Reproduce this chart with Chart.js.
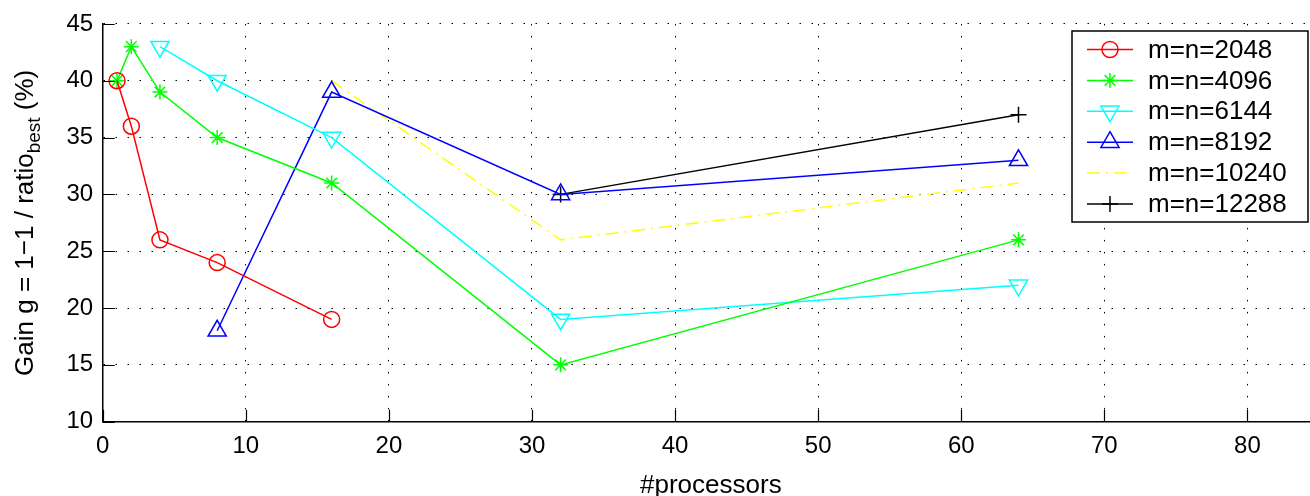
<!DOCTYPE html>
<html>
<head>
<meta charset="utf-8">
<script src="https://cdn.jsdelivr.net/npm/chart.js@4.4.0/dist/chart.umd.min.js"></script>
<style>
  html, body { margin: 0; padding: 0; background: #fff; overflow: hidden; }
  #wrap { width: 1331px; height: 496px; }
</style>
</head>
<body>
<div id="wrap"><canvas id="gain" width="1331" height="496"></canvas></div>
<script>
const FONT = "'Liberation Sans', Arial, Helvetica, sans-serif";

// series
const procs2048 = [1, 2, 4, 8, 16];
const gain2048 = [40, 36, 26, 24, 19];
const procs4096 = [1, 2, 4, 8, 16, 32, 64];
const gain4096 = [40, 43, 39, 35, 31, 15, 26];
const procs6144 = [4, 8, 16, 32, 64];
const gain6144 = [43, 40, 35, 19, 22];
const procs8192 = [8, 16, 32, 64];
const gain8192 = [18, 39, 30, 33];
const procs10240 = [16, 32, 64];
const gain10240 = [40, 26, 31];
const procs12288 = [32, 64];
const gain12288 = [30, 37];

const seriesLabels = ['m=n=2048', 'm=n=4096', 'm=n=6144', 'm=n=8192', 'm=n=10240', 'm=n=12288'];
const xTicks = [0, 10, 20, 30, 40, 50, 60, 70, 80];
const yTicks = [10, 15, 20, 25, 30, 35, 40, 45];

const STYLES = [
  { color: '#ff0000', point: 'circle', radius: 8, rotation: 0, dash: [] },
  { color: '#00ff00', point: 'star', radius: 7.5, rotation: 0, dash: [] },
  { color: '#00ffff', point: 'triangle', radius: 10.5, rotation: 180, dash: [] },
  { color: '#0000ff', point: 'triangle', radius: 10.5, rotation: 0, dash: [] },
  { color: '#ffff00', point: false, radius: 0, rotation: 0, dash: [13, 6, 2, 6] },
  { color: '#000000', point: 'cross', radius: 8, rotation: 0, dash: [] },
];

function pts(xs, ys) {
  return xs.map((x, i) => ({ x: x, y: ys[i] }));
}

const seriesData = [
  pts(procs2048, gain2048),
  pts(procs4096, gain4096),
  pts(procs6144, gain6144),
  pts(procs8192, gain8192),
  pts(procs10240, gain10240),
  pts(procs12288, gain12288),
];

const datasets = seriesData.map((d, i) => ({
  label: seriesLabels[i],
  data: d,
  showLine: true,
  tension: 0,
  borderColor: STYLES[i].color,
  borderWidth: 1.5,
  borderDash: STYLES[i].dash,
  pointStyle: STYLES[i].point,
  pointRadius: STYLES[i].radius,
  pointRotation: STYLES[i].rotation,
  pointBorderColor: STYLES[i].color,
  pointBackgroundColor: 'rgba(0,0,0,0)',
  pointBorderWidth: 1.5,
}));

// inward tick marks, axis titles and boxed legend, MATLAB style
const matlabBits = {
  id: 'matlabBits',
  afterDatasetsDraw(chart) {
    const ctx = chart.ctx;
    const area = chart.chartArea;
    const xs = chart.scales.x, ys = chart.scales.y;

    ctx.save();
    ctx.strokeStyle = '#000';
    ctx.lineWidth = 1.2;
    ctx.beginPath();
    xTicks.forEach(v => {
      const px = Math.round(xs.getPixelForValue(v)) + 0.5;
      ctx.moveTo(px, area.bottom);
      ctx.lineTo(px, area.bottom - 12);
    });
    yTicks.forEach(v => {
      const py = Math.round(ys.getPixelForValue(v)) + 0.5;
      ctx.moveTo(area.left, py);
      ctx.lineTo(area.left + 12, py);
    });
    ctx.stroke();

    // legend box
    const bx = 1072, by = 31, bw = 236, bh = 191;
    ctx.fillStyle = '#fff';
    ctx.fillRect(bx, by, bw, bh);
    ctx.lineWidth = 1.5;
    ctx.strokeStyle = '#000';
    ctx.strokeRect(bx, by, bw, bh);

    ctx.font = '26px ' + FONT;
    ctx.textBaseline = 'middle';
    ctx.textAlign = 'left';
    seriesLabels.forEach((lab, i) => {
      const st = STYLES[i];
      const ry = 49.5 + i * 30.9;
      ctx.save();
      ctx.strokeStyle = st.color;
      ctx.lineWidth = 1.5;
      ctx.setLineDash(st.dash);
      ctx.beginPath();
      ctx.moveTo(1087, ry);
      ctx.lineTo(1133, ry);
      ctx.stroke();
      ctx.setLineDash([]);
      if (st.point) {
        ctx.fillStyle = 'rgba(0,0,0,0)';
        Chart.helpers.drawPoint(ctx, {
          pointStyle: st.point, radius: st.radius, rotation: st.rotation, borderWidth: 1.5
        }, 1110, ry);
      }
      ctx.restore();
      ctx.fillStyle = '#000';
      ctx.fillText(lab, 1148, ry + 1);
    });

    // x title
    ctx.fillStyle = '#000';
    ctx.textAlign = 'center';
    ctx.textBaseline = 'alphabetic';
    ctx.font = '26px ' + FONT;
    ctx.fillText('#processors', (area.left + area.right) / 2, 493);

    // y title with subscript
    const main = 'Gain g = 1\u22121 / ratio';
    const sub = 'best';
    const tail = ' (%)';
    ctx.font = '26px ' + FONT;
    const wMain = ctx.measureText(main).width;
    const wTail = ctx.measureText(tail).width;
    ctx.font = '19px ' + FONT;
    const wSub = ctx.measureText(sub).width;
    const total = wMain + wSub + wTail;
    ctx.translate(33, (area.top + area.bottom) / 2);
    ctx.rotate(-Math.PI / 2);
    ctx.textAlign = 'left';
    let cx = -total / 2;
    ctx.font = '26px ' + FONT;
    ctx.fillText(main, cx, 0);
    cx += wMain;
    ctx.font = '19px ' + FONT;
    ctx.fillText(sub, cx, 7);
    cx += wSub;
    ctx.font = '26px ' + FONT;
    ctx.fillText(tail, cx, 0);
    ctx.restore();
  }
};

new Chart(document.getElementById('gain').getContext('2d'), {
  type: 'scatter',
  data: { datasets: datasets },
  options: {
    responsive: false,
    animation: false,
    layout: { padding: { top: 16, right: 10, left: 0, bottom: 0 } },
    plugins: {
      legend: { display: false },
      tooltip: { enabled: false },
    },
    scales: {
      x: {
        type: 'linear',
        min: 0,
        max: 85,
        afterBuildTicks: s => { s.ticks = xTicks.map(v => ({ value: v })); },
        afterFit: s => { s.height = 74.3; },
        ticks: { color: '#000', padding: 10, maxRotation: 0, font: { size: 24, family: FONT } },
        grid: { color: '#000', lineWidth: 1, drawTicks: false },
        border: { display: true, color: '#000', width: 1.5, dash: [1.5, 10.5] },
      },
      y: {
        type: 'linear',
        min: 10,
        max: 45,
        afterBuildTicks: s => { s.ticks = yTicks.map(v => ({ value: v })); },
        afterFit: s => { s.width = 102.7; },
        ticks: { color: '#000', padding: 9.5, font: { size: 24, family: FONT } },
        grid: { color: '#000', lineWidth: 1, drawTicks: false },
        border: { display: true, color: '#000', width: 1.5, dash: [1.5, 10.5] },
      },
    },
  },
  plugins: [matlabBits],
});
</script>
</body>
</html>
